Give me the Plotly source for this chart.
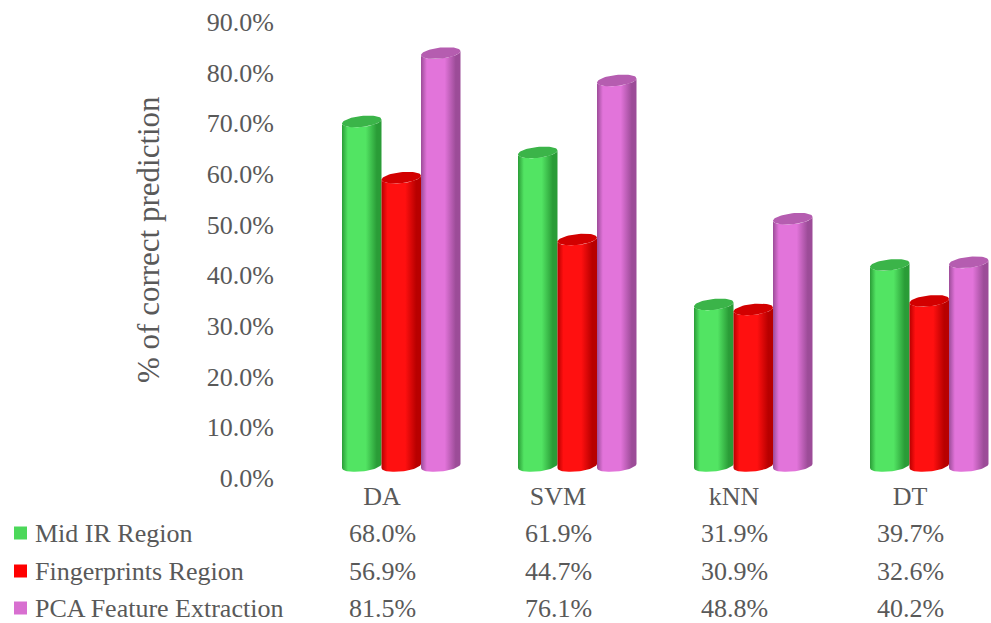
import numpy as np
import plotly.graph_objects as go

categories = ["DA", "SVM", "kNN", "DT"]
series_names = ["Mid IR Region", "Fingerprints Region", "PCA Feature Extraction"]
mid_ir = [68.0, 61.9, 31.9, 39.7]
fingerprints = [56.9, 44.7, 30.9, 32.6]
pca = [81.5, 76.1, 48.8, 40.2]
y_ticks = [0, 10, 20, 30, 40, 50, 60, 70, 80, 90]

series_values = [mid_ir, fingerprints, pca]
light = ["#52e463", "#ff1010", "#e274da"]
dark = ["#2a9c37", "#b80000", "#9c4c98"]
cap = ["#3bb449", "#d20000", "#b55db0"]
legend_col = ["#4cd85a", "#ff0000", "#d86fd0"]

W, H = 991, 623
ML, MR, MT, MB = 294, 0, 22, 145
PW = W - ML - MR
PH = H - MT - MB
cat_px = 176.0
xmax = -0.5 + PW / cat_px
px_y = 90.0 / PH  # y units per pixel
shift = 12 * px_y

bar_w = 39.5 / cat_px
off0 = -40.0 / cat_px
a = bar_w / 2
b = 5.5 * px_y
tilt = 2.0 * px_y

fig = go.Figure()
TXT = "#595959"
FONT = "Liberation Serif, Times New Roman, serif"

# anchor trace for the visible percentage axis
fig.add_trace(go.Scatter(x=[0], y=[0], xaxis="x", yaxis="y", mode="markers",
                         marker=dict(size=0.1, opacity=0), showlegend=False, hoverinfo="skip"))

for j, vals in enumerate(series_values):
    for i, v in enumerate(vals):
        xl = i + off0 + j * bar_w
        cx = xl + a
        th = np.linspace(np.pi, 2 * np.pi, 40)
        ex = cx + a * np.cos(th)
        ey = b * np.sin(th) + tilt * np.cos(th)
        xs = list(ex) + list(ex[::-1])
        ys = list(0 + ey) + list(v + ey[::-1])
        fig.add_trace(go.Scatter(
            x=xs, y=ys, xaxis="x", yaxis="y2", mode="lines",
            line=dict(width=0, color=light[j]), fill="toself",
            fillgradient=dict(type="horizontal",
                              colorscale=[[0, dark[j]], [0.15, light[j]], [0.6, light[j]],
                                          [0.88, dark[j]], [1, dark[j]]]),
            showlegend=False, hoverinfo="skip"))
        th2 = np.linspace(0, 2 * np.pi, 60)
        cxs = cx + a * np.cos(th2)
        cys = v + b * np.sin(th2) + tilt * np.cos(th2)
        fig.add_trace(go.Scatter(
            x=cxs, y=cys, xaxis="x", yaxis="y2", mode="lines",
            line=dict(width=0, color=cap[j]), fill="toself", fillcolor=cap[j],
            showlegend=False, hoverinfo="skip",
            name=f"{series_names[j]} {categories[i]}: {v}%"))

annotations = []
shapes = []
row_px = [533, 571, 608]
for j, name in enumerate(series_names):
    yp = (MT + PH - row_px[j]) / PH
    annotations.append(dict(xref="paper", yref="paper", x=(33 - ML) / PW, y=yp,
                            text=name, showarrow=False, xanchor="left", yanchor="middle",
                            font=dict(family=FONT, size=26, color=TXT)))
    shapes.append(dict(type="rect", xref="paper", yref="paper",
                       x0=(14 - ML) / PW, x1=(27 - ML) / PW,
                       y0=yp - 6.5 / PH, y1=yp + 6.5 / PH,
                       fillcolor=legend_col[j], line=dict(width=0)))
    for i, v in enumerate(series_values[j]):
        annotations.append(dict(xref="x", yref="paper", x=i, y=yp,
                                text=f"{v:.1f}%", showarrow=False, xanchor="center",
                                yanchor="middle", font=dict(family=FONT, size=26, color=TXT)))

annotations.append(dict(xref="paper", yref="paper", x=(148 - ML) / PW, y=(MT + PH - 240) / PH,
                        text="% of correct prediction", textangle=-90, showarrow=False,
                        xanchor="center", yanchor="middle",
                        font=dict(family=FONT, size=31, color=TXT)))

fig.update_layout(
    width=W, height=H, margin=dict(l=ML, r=MR, t=MT, b=MB),
    paper_bgcolor="white", plot_bgcolor="white",
    font=dict(family=FONT, color=TXT, size=26),
    xaxis=dict(range=[-0.5, xmax], tickvals=list(range(len(categories))), ticktext=categories,
               showgrid=False, zeroline=False, showline=False, ticks="",
               tickfont=dict(family=FONT, size=26, color=TXT)),
    yaxis=dict(range=[0, 90], tickmode="array", tickvals=y_ticks,
               ticktext=[f"{t:.1f}%" for t in y_ticks],
               showgrid=False, zeroline=False, showline=False, ticks="",
               tickfont=dict(family=FONT, size=26, color=TXT), ticklabelstandoff=19),
    yaxis2=dict(range=[-shift, 90 - shift], overlaying="y", visible=False),
    annotations=annotations, shapes=shapes, showlegend=False,
)

fig.write_html("out.html")
